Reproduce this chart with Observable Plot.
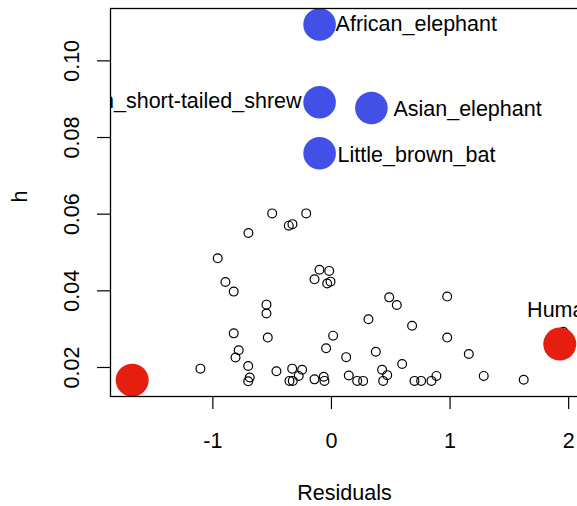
<!DOCTYPE html>
<html>
<head>
<meta charset="utf-8">
<script src="https://cdn.jsdelivr.net/npm/d3@7"></script>
<script src="https://cdn.jsdelivr.net/npm/@observablehq/plot@0.6"></script>
<style>
  html, body { margin: 0; padding: 0; background: #fff; overflow: hidden; }
  #chart { width: 577px; height: 506px; overflow: hidden; }
</style>
</head>
<body>
<div id="chart"></div>
<script>
// Residuals of the fitted model against leverage h, one point per species.
const residuals = [
  -0.500, -0.213, -0.360, -0.329, -0.700, -0.959, -0.894, -0.824,
  -0.101, -0.143, -0.019, -0.036, -0.008, 0.487, 0.551, -0.548,
  -0.548, -0.824, -0.537, -0.782, -0.809, -1.105, -0.702, -0.689,
  -0.702, -0.464, -0.331, -0.247, -0.276, -0.354, -0.326, -0.143,
  0.312, 0.680, 0.014, -0.045, 0.124, 0.374, 0.596, 0.427,
  0.470, -0.065, -0.059, 0.146, 0.217, 0.267, 0.436, 0.700,
  0.756, 0.843, 0.885, 0.976, 0.976, 1.158, 1.284, 1.621, 1.956
];
const leverage = [
  0.0602, 0.0602, 0.0570, 0.0574, 0.0551, 0.0485, 0.0423, 0.0398,
  0.0455, 0.0430, 0.0452, 0.0419, 0.0424, 0.0383, 0.0363, 0.0364,
  0.0341, 0.0289, 0.0278, 0.0245, 0.0226, 0.0197, 0.0204, 0.0174,
  0.0164, 0.0190, 0.0197, 0.0194, 0.0178, 0.0165, 0.0165, 0.0169,
  0.0326, 0.0309, 0.0283, 0.0250, 0.0227, 0.0241, 0.0209, 0.0194,
  0.0180, 0.0176, 0.0165, 0.0179, 0.0165, 0.0165, 0.0165, 0.0165,
  0.0165, 0.0165, 0.0178, 0.0385, 0.0278, 0.0235, 0.0178, 0.0168, 0.0293
];

// High-leverage species (blue)
const leverageNames = ["African_elephant", "Northern_short-tailed_shrew", "Asian_elephant", "Little_brown_bat"];
const leverageResid = [-0.100, -0.100, 0.337, -0.100];
const leverageH = [0.1095, 0.0892, 0.0877, 0.0759];

// Large-residual species (red)
const outlierNames = ["", "Human"];
const outlierResid = [-1.680, 1.925];
const outlierH = [0.0167, 0.0261];

// Axis ticks
const xTicks = [-1, 0, 1, 2];
const xTickLabels = ["-1", "0", "1", "2"];
const yTicks = [0.02, 0.04, 0.06, 0.08, 0.10];
const yTickLabels = ["0.02", "0.04", "0.06", "0.08", "0.10"];

const points = residuals.map((r, i) => ({r, h: leverage[i]}));
const blue = leverageNames.map((name, i) => ({name, r: leverageResid[i], h: leverageH[i]}));
const red = outlierNames.map((name, i) => ({name, r: outlierResid[i], h: outlierH[i]}));

const font = "'Liberation Sans', Arial, sans-serif";
const fs = 21.5;

// label placement: [textAnchor, dx, dy]; the shrew label sits to the left of its point
const labelPlace = {
  "African_elephant": ["start", 16, 0],
  "Northern_short-tailed_shrew": ["end", -18, -1],
  "Asian_elephant": ["start", 22, 1.5],
  "Little_brown_bat": ["start", 18, 2]
};

const blueLabels = blue.map(d => {
  const [anchor, dx, dy] = labelPlace[d.name];
  return Plot.text([d], {
    x: "r", y: "h", text: "name", textAnchor: anchor, lineAnchor: "middle",
    dx, dy, fill: "#000", fontSize: fs, clip: true
  });
});

const chart = Plot.plot({
  width: 578,
  height: 506,
  marginLeft: 110,
  marginRight: 0,
  marginTop: 8,
  marginBottom: 110,
  style: {fontFamily: font, fontSize: fs + "px", background: "#fff", maxWidth: "none", overflow: "visible"},
  x: {domain: [-1.863, 2.083], axis: null},
  y: {domain: [0.01243, 0.11366], axis: null},
  marks: [
    Plot.axisX({ticks: xTicks, tickSize: 13, tickFormat: () => "", label: null, stroke: "#000", strokeWidth: 1.2}),
    Plot.axisY({ticks: yTicks, tickSize: 13, tickFormat: () => "", label: null, stroke: "#000", strokeWidth: 1.2}),
    Plot.text(xTicks, {x: d => d, text: (d, i) => xTickLabels[i], frameAnchor: "bottom", dy: 45, lineAnchor: "middle", fill: "#000", fontSize: fs}),
    Plot.text(yTicks, {y: d => d, text: (d, i) => yTickLabels[i], frameAnchor: "left", dx: -38, rotate: -90, lineAnchor: "middle", textAnchor: "middle", fill: "#000", fontSize: fs}),
    Plot.text(["Residuals"], {text: d => d, frameAnchor: "bottom", dy: 97, lineAnchor: "middle", fill: "#000", fontSize: fs}),
    Plot.text(["h"], {text: d => d, frameAnchor: "left", dx: -90, rotate: -90, lineAnchor: "middle", fill: "#000", fontSize: fs}),
    Plot.dot(points, {x: "r", y: "h", r: 4.4, stroke: "#000", strokeWidth: 1.2, fill: "none"}),
    Plot.dot(blue, {x: "r", y: "h", r: 16.3, fill: "#4250E8"}),
    Plot.dot(red, {x: "r", y: "h", r: 16.5, fill: "#E61E10"}),
    ...blueLabels,
    Plot.text(red.filter(d => d.name), {
      x: "r", y: "h", text: "name", textAnchor: "middle", lineAnchor: "middle",
      dx: 2, dy: -34, fill: "#000", fontSize: fs
    }),
    Plot.frame({stroke: "#000", strokeWidth: 1.3})
  ]
});
document.getElementById("chart").appendChild(chart);
</script>
</body>
</html>
